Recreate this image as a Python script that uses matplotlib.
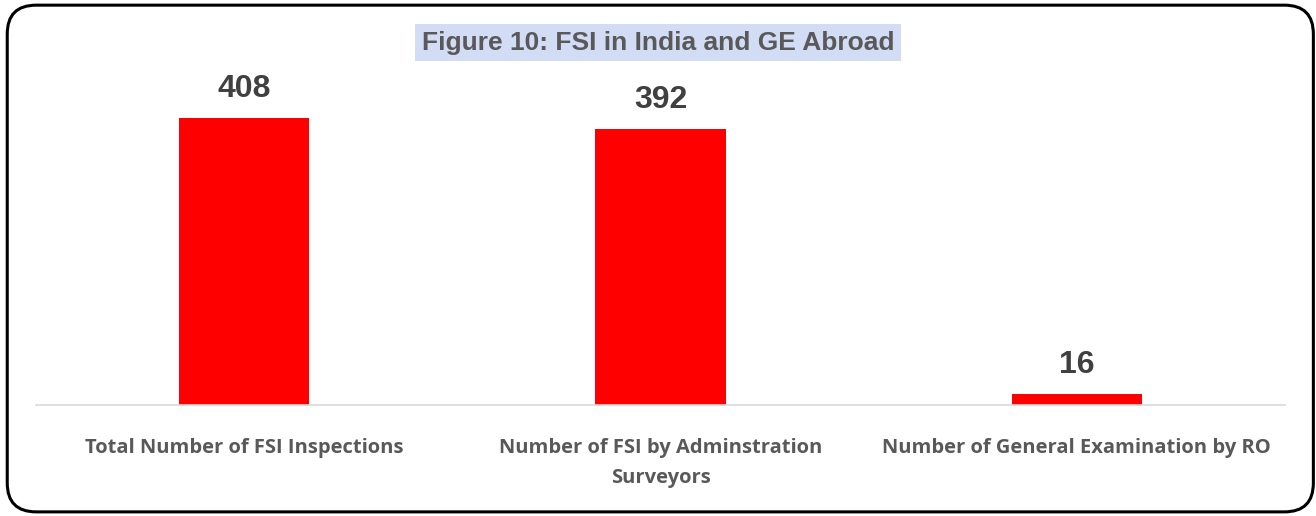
import matplotlib.pyplot as plt
from matplotlib.patches import FancyBboxPatch

categories = ["Total Number of FSI Inspections",
              "Number of FSI by Adminstration\nSurveyors",
              "Number of General Examination by RO"]
values = [408, 392, 16]
title = "Figure 10: FSI in India and GE Abroad"

fig = plt.figure(figsize=(13.16, 5.16), dpi=100)

# rounded frame around the whole chart
frame = FancyBboxPatch((0.0055, 0.008), 0.9925, 0.982,
                       boxstyle="round,pad=0,rounding_size=0.022",
                       transform=fig.transFigure, facecolor="none",
                       edgecolor="black", linewidth=2.2, mutation_aspect=2.55,
                       zorder=0)
fig.patches.append(frame)

ax = fig.add_axes([0.0274, 0.2151, 0.949, 0.6686])
ax.set_facecolor("none")
x = range(len(values))
ax.bar(x, values, width=0.3125, color="#ff0000", zorder=2)
ax.set_xlim(-0.5, 2.5)
ax.set_ylim(0, 490)

for xi, v in zip(x, values):
    ax.annotate(str(v), (xi, v), xytext=(0, 10), textcoords="offset points",
                ha="center", va="bottom", fontsize=23, fontweight="bold",
                color="#404040", family="Liberation Sans")

for side in ["top", "right", "left"]:
    ax.spines[side].set_visible(False)
ax.spines["bottom"].set_color("#d9d9d9")
ax.spines["bottom"].set_linewidth(1.2)
ax.set_yticks([])
ax.set_xticks(list(x))
ax.set_xticklabels(categories, fontsize=14.5, fontweight="bold", color="#595959",
                   family="Open Sans", linespacing=1.7)
ax.tick_params(axis="x", length=0, pad=23.5)
for lbl in ax.get_xticklabels():
    lbl.set_verticalalignment("top")

fig.text(0.5, 0.917, title, ha="center", va="center", fontsize=19,
         fontweight="bold", color="#595959", family="Liberation Sans",
         bbox=dict(boxstyle="square,pad=0.25", facecolor="#d2dcf4",
                   edgecolor="none"))

fig.savefig("out.png", dpi=100)
